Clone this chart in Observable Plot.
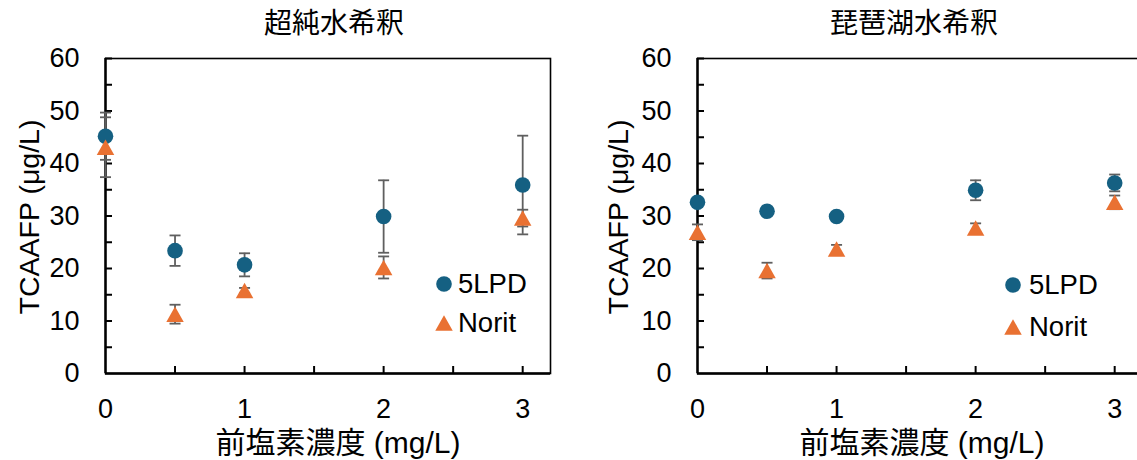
<!DOCTYPE html>
<html><head><meta charset="utf-8">
<script src="https://cdn.jsdelivr.net/npm/d3@7"></script>
<script src="https://cdn.jsdelivr.net/npm/@observablehq/plot@0.6"></script>
<style>
body{margin:0;background:#fff;}
#wrap{position:relative;width:1137px;height:460px;overflow:hidden;font-family:"Liberation Sans","Noto Sans CJK JP",sans-serif;color:#000;background:#fff;}
.abs{position:absolute;white-space:nowrap;line-height:1;}
.svgbox{position:absolute;top:0;}
.svgbox svg{max-width:none !important;}
</style></head><body><div id="wrap"></div>
<script>
// ---- data ----
const conc = [0, 0.5, 1, 2, 3];
const pureLPD = [45.2, 23.4, 20.7, 29.9, 35.9];
const pureLPDErr = [4.5, 2.9, 2.2, 6.9, 9.4];
const pureNorit = [43.1, 11.3, 15.8, 20.2, 29.6];
const pureNoritErr = [5.7, 1.8, 0.5, 2.1, 1.6];
const biwaLPD = [32.6, 30.9, 29.9, 34.9, 36.3];
const biwaLPDErr = [0.5, 0.5, 0.5, 1.9, 1.6];
const biwaNorit = [26.9, 19.6, 23.7, 27.7, 32.6];
const biwaNoritErr = [1.5, 1.5, 0.8, 0.9, 1.3];
const xTickLabels = [0, 1, 2, 3];
const xMinorTicks = [0.5, 1, 1.5, 2, 2.5, 3];
const yTickLabels = [0, 10, 20, 30, 40, 50, 60];
const yMinorTicks = [5, 10, 15, 20, 25, 30, 35, 40, 45, 50, 55, 60];
const seriesNames = ["5LPD", "Norit"];
const titles = ["超純水希釈", "琵琶湖水希釈"];
const xTitle = "前塩素濃度 (mg/L)";
const yTitle = "TCAAFP (μg/L)";

const BLUE = "#156082", ORANGE = "#E97132", ERR = "#5f5f5f";
const FONT = '"Liberation Sans","Noto Sans CJK JP",sans-serif';
const triSymbol = {draw(ctx){ const w = 17.5, h = 15.5; ctx.moveTo(0, -h/2); ctx.lineTo(w/2, h/2); ctx.lineTo(-w/2, h/2); ctx.closePath(); }};
const capSymbol = {draw(ctx){ ctx.moveTo(-5.5, 0); ctx.lineTo(5.5, 0); }};

const wrap = document.getElementById("wrap");
function addText(txt, css){ const d = document.createElement("div"); d.className = "abs"; d.textContent = txt; Object.assign(d.style, css); wrap.appendChild(d); return d; }

function panel(cfg){
  const plotW = 445, plotH = 315;
  const rows = conc.map((x, i) => ({x, lpd: cfg.lpd[i], lpdErr: cfg.lpdErr[i], norit: cfg.norit[i], noritErr: cfg.noritErr[i]}));
  const svg = Plot.plot({
    width: cfg.width, height: 460,
    marginLeft: cfg.marginLeft, marginRight: cfg.width - cfg.marginLeft - plotW,
    marginTop: 58, marginBottom: 87,
    style: {fontFamily: FONT, color: "#000", background: "transparent", overflow: "visible", maxWidth: "none"},
    x: {domain: [0, 3.2]},
    y: {domain: [0, 60]},
    marks: [
      Plot.axisX(xTickLabels, {tickSize: 0, tickPadding: 25, fontSize: 27, label: null, tickFormat: d3.format("d")}),
      Plot.axisY(yTickLabels, {tickSize: 0, tickPadding: 26, fontSize: 27, label: null, tickFormat: d3.format("d")}),
      Plot.tickX(xMinorTicks, {x: d => d, insetTop: plotH - 7, stroke: "#000", strokeWidth: 2}),
      Plot.tickY(yMinorTicks, {y: d => d, insetRight: plotW - 7, stroke: "#000", strokeWidth: 2}),
      Plot.frame({stroke: "#000", strokeWidth: 1.6}),
      Plot.ruleX([0], {stroke: "#000", strokeWidth: 2.4}),
      Plot.ruleY([0], {stroke: "#000", strokeWidth: 2.4}),
      Plot.ruleX(rows, {x: "x", y1: d => d.lpd - d.lpdErr, y2: d => d.lpd + d.lpdErr, stroke: ERR, strokeWidth: 1.8}),
      Plot.dot(rows, {x: "x", y: d => d.lpd + d.lpdErr, symbol: capSymbol, r: 5, stroke: ERR, strokeWidth: 1.8, fill: "none"}),
      Plot.dot(rows, {x: "x", y: d => d.lpd - d.lpdErr, symbol: capSymbol, r: 5, stroke: ERR, strokeWidth: 1.8, fill: "none"}),
      Plot.ruleX(rows, {x: "x", y1: d => d.norit - d.noritErr, y2: d => d.norit + d.noritErr, stroke: ERR, strokeWidth: 1.8}),
      Plot.dot(rows, {x: "x", y: d => d.norit + d.noritErr, symbol: capSymbol, r: 5, stroke: ERR, strokeWidth: 1.8, fill: "none"}),
      Plot.dot(rows, {x: "x", y: d => d.norit - d.noritErr, symbol: capSymbol, r: 5, stroke: ERR, strokeWidth: 1.8, fill: "none"}),
      Plot.dot(rows, {x: "x", y: "lpd", r: 7.8, fill: BLUE, stroke: "none"}),
      Plot.dot(rows, {x: "x", y: "norit", symbol: triSymbol, r: 8, fill: ORANGE, stroke: "none"})
    ]
  });
  const box = document.createElement("div");
  box.className = "svgbox";
  box.style.left = cfg.left + "px";
  box.style.width = cfg.width + "px";
  box.appendChild(svg);
  wrap.appendChild(box);

  addText(cfg.title, {left: cfg.titleX + "px", top: "24px", fontSize: "28px", transform: "translate(-50%,-50%)"});
  addText(xTitle, {left: cfg.xlabX + "px", top: "443px", fontSize: "30px", transform: "translate(-50%,-50%)"});
  addText(yTitle, {left: cfg.ylabX + "px", top: "217px", fontSize: "28.5px", transform: "translate(-50%,-50%) rotate(-90deg)"});

  // legend
  const leg = [
    {name: seriesNames[0], y: cfg.legY[0], svg: `<svg width="18" height="18" viewBox="-9 -9 18 18"><circle r="7.8" fill="${BLUE}"/></svg>`},
    {name: seriesNames[1], y: cfg.legY[1], svg: `<svg width="18" height="18" viewBox="-9 -9 18 18"><path d="M0,-7.75L8.75,7.75L-8.75,7.75Z" fill="${ORANGE}"/></svg>`}
  ];
  leg.forEach(l => {
    const s = document.createElement("div");
    s.className = "abs";
    s.innerHTML = l.svg;
    Object.assign(s.style, {left: (cfg.legX - 9) + "px", top: (l.y - 9) + "px", width: "18px", height: "18px"});
    wrap.appendChild(s);
    addText(l.name, {left: cfg.legTextX + "px", top: l.y + "px", fontSize: "27.5px", transform: "translate(0,-50%)"});
  });
}

panel({left: 0, width: 568, marginLeft: 105, lpd: pureLPD, lpdErr: pureLPDErr, norit: pureNorit, noritErr: pureNoritErr,
  title: titles[0], titleX: 334, xlabX: 338, ylabX: 29, legX: 444, legTextX: 458, legY: [284, 323]});
panel({left: 568, width: 600, marginLeft: 129, lpd: biwaLPD, lpdErr: biwaLPDErr, norit: biwaNorit, noritErr: biwaNoritErr,
  title: titles[1], titleX: 914, xlabX: 922, ylabX: 618, legX: 1013, legTextX: 1029, legY: [285, 327]});
</script></body></html>
